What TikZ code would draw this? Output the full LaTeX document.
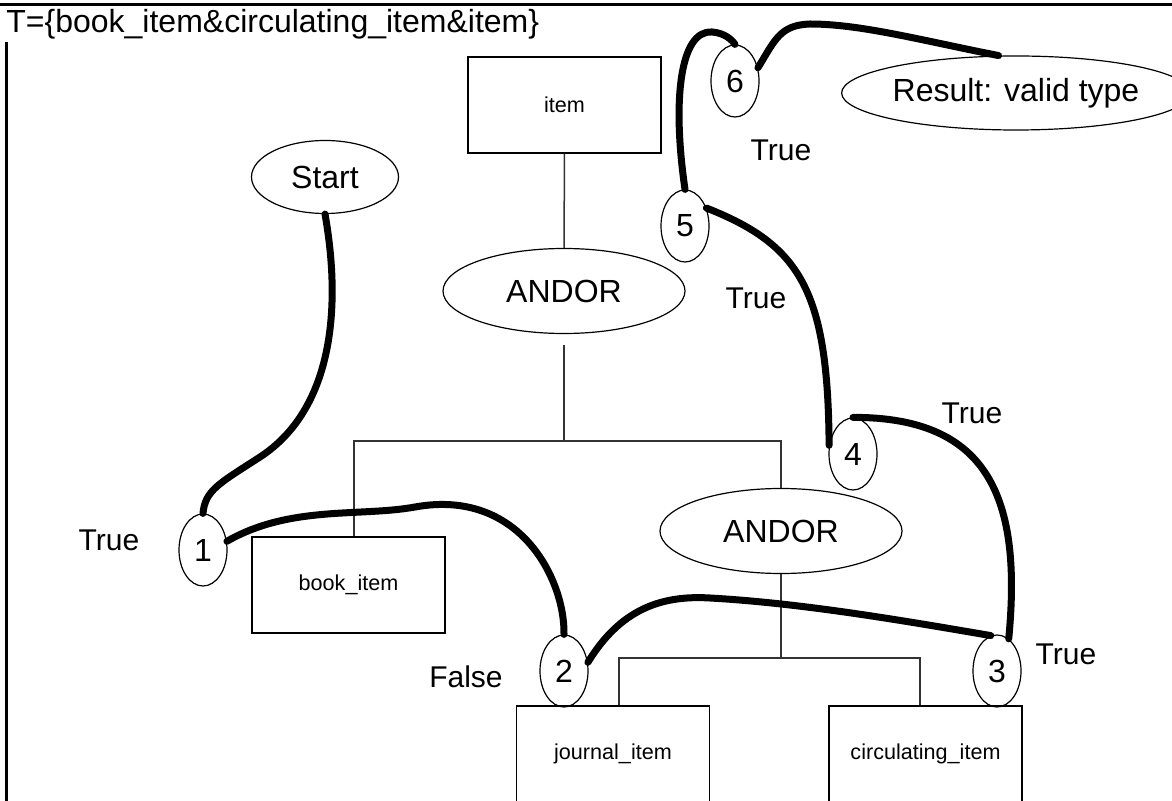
\documentclass[tikz,border=0pt]{standalone}
\usepackage{fontspec}
\setmainfont{Liberation Sans}
\usetikzlibrary{shapes.geometric}

\begin{document}
\begin{tikzpicture}[x=0.5pt, y=-0.5pt,
    oval/.style={draw, ellipse, line width=0.6pt, inner sep=0pt,
      minimum width=121pt, minimum height=42.5pt, font=\fontsize{16}{19}\selectfont},
    stateno/.style={draw, ellipse, line width=0.6pt, inner sep=0pt,
      minimum width=24pt, minimum height=36pt, font=\fontsize{16}{18}\selectfont},
    typebox/.style={draw, rectangle, line width=0.75pt, inner sep=0pt,
      minimum width=96.5pt, minimum height=48pt, font=\fontsize{10.8}{13}\selectfont},
    tree/.style={line width=0.75pt, black!80},
    walk/.style={line width=3.5pt, line cap=round},
    verdict/.style={font=\fontsize{15}{18}\selectfont}]
  \useasboundingbox (0,0) rectangle (1172,801);

  % frame and type expression
  \draw[line width=1.5pt] (0,5) -- (1172,5);
  \draw[line width=1.5pt] (6,42) -- (6,801);
  \node[anchor=base west, inner sep=0pt, font=\fontsize{16}{19}\selectfont] (title) at (6,33)
    {T=\{book\_item\&circulating\_item\&item\}};

  % type tree
  \node[typebox] (item) at (564.5,105) {item};
  \node[oval] (andorA) at (564,291) {ANDOR};
  \node[typebox] (book) at (348.5,585) {book\_item};
  \node[oval] (andorB) at (781,531) {ANDOR};
  \node[typebox] (journal) at (613,754) {journal\_item};
  \node[typebox] (circ) at (925.5,754) {circulating\_item};
  \coordinate (forkA) at (564,441);
  \coordinate (forkB) at (781,658);

  \draw[tree] (item) -- (andorA);
  \draw[tree, shorten <=5.5pt] (andorA) -- (forkA);
  \draw[tree] ([xshift=2.75pt]book.north) |- (forkA) -| (andorB.north);
  \draw[tree] (andorB) -- (forkB);
  \draw[tree] ([xshift=3pt]journal.north) |- (forkB) -| ([xshift=-2.75pt]circ.north);

  % start and result
  \node[oval, minimum width=73.5pt, minimum height=36.5pt] (start) at (325,177) {Start};
  \node[oval, minimum width=154pt, minimum height=37pt] (result) at (1016,93) {Result: valid type};

  % numbered steps
  \node[stateno] (s1) at (203,550) {1};
  \node[stateno] (s2) at (564,671) {2};
  \node[stateno] (s3) at (997,671) {3};
  \node[stateno] (s4) at (853,454) {4};
  \node[stateno] (s5) at (685,226) {5};
  \node[stateno] (s6) at (735,81) {6};

  % verdicts
  \node[verdict] (v1) at (109,540) {True};
  \node[verdict] (v2) at (466,677) {False};
  \node[verdict] (v3) at (1066,654) {True};
  \node[verdict] (v4) at (972,413) {True};
  \node[verdict] (v5) at (756,298) {True};
  \node[verdict] (v6) at (781,150) {True};

  % evaluation walk
  \draw[walk] (start.south) .. controls (342,310) and (332,410) .. (260,457)
    .. controls (220,483) and (205,490) .. (s1.north);
  \draw[walk] (s1.20) .. controls (290,505) and (360,517) .. (415,507)
    .. controls (520,488) and (565,580) .. (s2.north);
  \draw[walk] (s2.20) .. controls (620,610) and (660,595) .. (710,598)
    .. controls (800,603) and (900,620) .. (s3.100);
  \draw[walk] (s3.70) .. controls (1022,500) and (990,417) .. (s4.north);
  \draw[walk] (s4.160) .. controls (828,290) and (800,245) .. (s5.40);
  \draw[walk] (s5.north) .. controls (672,100) and (680,30) .. (712,32)
    .. controls (725,33) and (732,40) .. (s6.north);
  \draw[walk] (s6.30) .. controls (775,40) and (780,25) .. (810,24)
    .. controls (860,24) and (920,40) .. (result.115);
\end{tikzpicture}
\end{document}
